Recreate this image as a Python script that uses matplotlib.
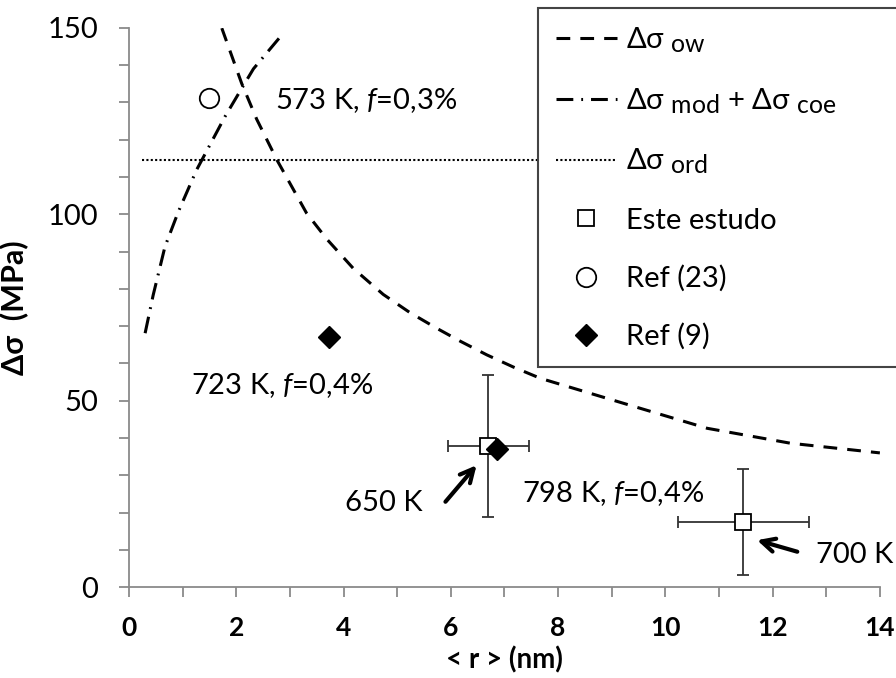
import matplotlib

matplotlib.use("Agg")
import matplotlib._mathtext as mathtext_internal
import matplotlib.pyplot as plt
from matplotlib.ticker import MultipleLocator

plt.rcParams["font.family"] = ["Lato", "DejaVu Sans"]
plt.rcParams["mathtext.fontset"] = "custom"
plt.rcParams["mathtext.rm"] = "Lato"
plt.rcParams["mathtext.it"] = "Lato:italic"
plt.rcParams["mathtext.bf"] = "Lato:bold"
# subscripts in the original are almost full size
mathtext_internal.SHRINK_FACTOR = 0.85

# Orowan curve (dashed)
ow_r = [1.73, 2.10, 2.38, 2.76, 3.31, 3.69, 4.18, 4.74, 5.24, 5.74, 6.17, 6.67, 7.17, 7.67, 9.22, 10.78, 12.33, 14.0]
ow_s = [149.9, 135.1, 125.5, 114.5, 100.3, 93.3, 85.5, 78.5, 73.6, 69.4, 66.0, 62.3, 59.0, 56.0, 49.3, 42.6, 38.6, 36.0]

# modulus + coherency curve (dash-dot)
mc_r = [0.30, 0.45, 0.67, 0.92, 1.26, 1.79, 2.07, 2.32, 2.85]
mc_s = [68.1, 78.3, 91.3, 100.7, 111.9, 126.2, 133.0, 139.0, 148.1]

# order strengthening (dotted, constant)
ord_r = [0.25, 14.0]
ord_s = [114.5, 114.5]

# this study, with error bars
este_r = [6.70, 11.45]
este_s = [37.8, 17.5]
este_rerr = [0.75, 1.22]
este_serr = [19.0, 14.2]

ref23_r = [1.50]
ref23_s = [131.2]

ref9_r = [3.72, 6.87]
ref9_s = [67.1, 37.0]

fig = plt.figure(figsize=(8.96, 6.78), dpi=100)
ax = fig.add_axes([0.144, 0.134, 0.838, 0.825])

grey = "#8a8a8a"

l_ow, = ax.plot(ow_r, ow_s, color="black", lw=2.2, ls=(0, (4.5, 3.3)),
                label=r"Δσ $_{\mathregular{ow}}$")
l_mc, = ax.plot(mc_r, mc_s, color="black", lw=2.2, ls=(0, (5.5, 2.6, 0.6, 2.6)),
                label=r"Δσ $_{\mathregular{mod}}$ + Δσ $_{\mathregular{coe}}$")
l_ord, = ax.plot(ord_r, ord_s, color="black", lw=1.5, ls=(0, (1, 1.1)),
                 label=r"Δσ $_{\mathregular{ord}}$")

ax.errorbar(este_r, este_s, xerr=este_rerr, yerr=este_serr, fmt="none",
            ecolor="#333333", elinewidth=1.3, capsize=4.5, capthick=1.3, zorder=3)
l_este, = ax.plot(este_r, este_s, ls="none", marker="s", ms=11, mfc="white",
                  mec="black", mew=1.3, label="Este estudo", zorder=4)
l_23, = ax.plot(ref23_r, ref23_s, ls="none", marker="o", ms=14, mfc="white",
                mec="black", mew=1.3, label="Ref (23)", zorder=4)
l_9, = ax.plot(ref9_r, ref9_s, ls="none", marker="D", ms=11, mfc="black",
               mec="black", label="Ref (9)", zorder=5)

ax.set_xlim(0, 14)
ax.set_ylim(0, 150)
ax.xaxis.set_major_locator(MultipleLocator(2))
ax.xaxis.set_minor_locator(MultipleLocator(1))
ax.yaxis.set_major_locator(MultipleLocator(50))
ax.yaxis.set_minor_locator(MultipleLocator(10))

for side in ("top", "right"):
    ax.spines[side].set_visible(False)
for side in ("left", "bottom"):
    ax.spines[side].set_color(grey)
    ax.spines[side].set_linewidth(1.3)

ax.tick_params(axis="both", which="both", direction="out", color=grey, width=1.3, length=7)
ax.tick_params(axis="y", labelsize=21, pad=15)
ax.tick_params(axis="x", labelsize=19, pad=14)
for lab in ax.get_xticklabels():
    lab.set_fontweight("bold")

ax.set_xlabel("< r > (nm)", fontsize=20, fontweight="bold", labelpad=4)
ax.set_ylabel("Δσ  (MPa)", fontsize=22, fontweight="bold", labelpad=14)

txt = dict(fontsize=21, va="center", ha="left")
ax.text(2.72, 130.5, r"573 K, $\it{f}$=0,3%", **txt)
ax.text(1.16, 54.0, r"723 K, $\it{f}$=0,4%", **txt)
ax.text(7.33, 25.2, r"798 K, $\it{f}$=0,4%", **txt)
ax.text(4.03, 22.5, "650 K", **txt)
ax.text(12.80, 8.6, "700 K", **txt)

arrow = dict(arrowstyle="->", color="black", lw=3, mutation_scale=24, shrinkA=0, shrinkB=0)
ax.annotate("", xy=(6.48, 32.7), xytext=(5.90, 22.9), arrowprops=arrow)
ax.annotate("", xy=(11.71, 12.6), xytext=(12.46, 9.5), arrowprops=arrow)

leg = fig.legend(handles=[l_ow, l_mc, l_ord, l_este, l_23, l_9],
                 loc="upper left", bbox_to_anchor=(538 / 896, 1 - 8 / 678, 0.42, 0.0),
                 mode="expand", fontsize=21, handlelength=2.1, handletextpad=0.3,
                 labelspacing=1.07, borderpad=0.6, borderaxespad=0, fancybox=False,
                 framealpha=1, edgecolor="#444444")
leg.get_frame().set_linewidth(1.5)

fig.savefig("out.png", dpi=100)
